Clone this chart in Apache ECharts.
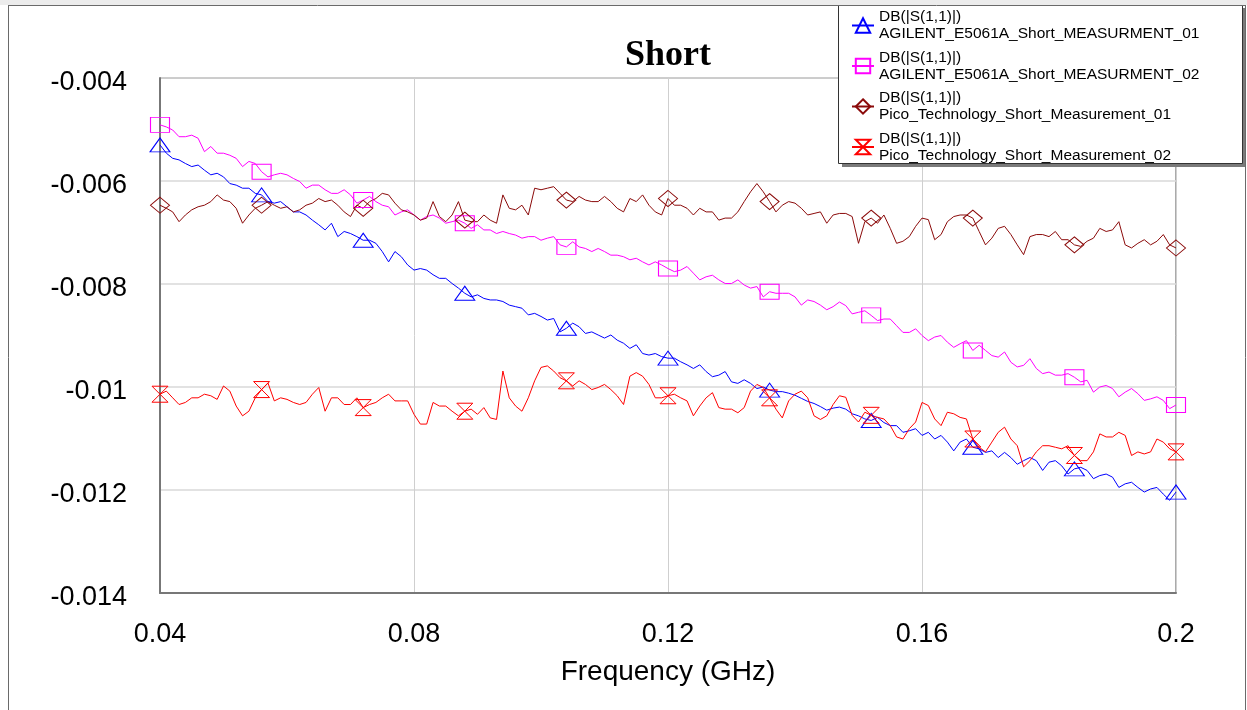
<!DOCTYPE html>
<html>
<head>
    <meta charset="utf-8">
    <script src="https://cdn.jsdelivr.net/npm/echarts@6/dist/echarts.min.js"></script>
    <style>
        html, body { margin: 0; padding: 0; background: #fff; }
        #container { width: 1247px; height: 710px; }
    </style>
</head>
<body>
<div id="container"></div>
<script>
    // frequency sweep, 0.04 .. 0.2 GHz in 0.001 GHz steps
    const freqGHz = Array.from({length: 161}, (_, i) => +(0.04 + i * 0.001).toFixed(3));

    // DB(|S(1,1)|)
    const agilent01 = [
        -0.00530, -0.00546, -0.00556, -0.00559, -0.00566, -0.00572, -0.00569, -0.00579, -0.00588, -0.00585,
        -0.00592, -0.00605, -0.00608, -0.00614, -0.00614, -0.00624, -0.00627, -0.00640, -0.00643, -0.00640,
        -0.00650, -0.00660, -0.00660, -0.00666, -0.00676, -0.00685, -0.00695, -0.00682, -0.00708, -0.00698,
        -0.00702, -0.00708, -0.00715, -0.00715, -0.00721, -0.00737, -0.00757, -0.00737, -0.00747, -0.00763,
        -0.00773, -0.00770, -0.00773, -0.00782, -0.00789, -0.00789, -0.00799, -0.00808, -0.00818, -0.00825,
        -0.00821, -0.00828, -0.00831, -0.00831, -0.00834, -0.00841, -0.00844, -0.00847, -0.00860, -0.00857,
        -0.00863, -0.00870, -0.00867, -0.00893, -0.00886, -0.00876, -0.00883, -0.00896, -0.00893, -0.00899,
        -0.00905, -0.00899, -0.00909, -0.00915, -0.00925, -0.00918, -0.00935, -0.00938, -0.00935, -0.00941,
        -0.00944, -0.00944, -0.00951, -0.00957, -0.00964, -0.00957, -0.00970, -0.00980, -0.00977, -0.00970,
        -0.00990, -0.00993, -0.00986, -0.00993, -0.01003, -0.01000, -0.01006, -0.01009, -0.01009, -0.01012,
        -0.01016, -0.01022, -0.01028, -0.01032, -0.01038, -0.01045, -0.01041, -0.01039, -0.01043, -0.01052,
        -0.01056, -0.01062, -0.01065, -0.01059, -0.01069, -0.01075, -0.01075, -0.01088, -0.01085, -0.01081,
        -0.01094, -0.01088, -0.01101, -0.01094, -0.01107, -0.01124, -0.01107, -0.01101, -0.01117, -0.01120,
        -0.01127, -0.01124, -0.01137, -0.01127, -0.01137, -0.01150, -0.01143, -0.01137, -0.01143, -0.01162,
        -0.01146, -0.01143, -0.01153, -0.01169, -0.01159, -0.01156, -0.01162, -0.01178, -0.01172, -0.01169,
        -0.01175, -0.01195, -0.01188, -0.01185, -0.01195, -0.01204, -0.01198, -0.01195, -0.01208, -0.01220,
        -0.01204
    ];
    const agilent02 = [
        -0.00491, -0.00495, -0.00501, -0.00514, -0.00514, -0.00511, -0.00517, -0.00543, -0.00533, -0.00546,
        -0.00546, -0.00550, -0.00556, -0.00572, -0.00562, -0.00566, -0.00582, -0.00592, -0.00588, -0.00585,
        -0.00588, -0.00595, -0.00601, -0.00614, -0.00608, -0.00608, -0.00617, -0.00624, -0.00624, -0.00617,
        -0.00627, -0.00643, -0.00637, -0.00630, -0.00640, -0.00647, -0.00650, -0.00666, -0.00660, -0.00656,
        -0.00666, -0.00676, -0.00669, -0.00666, -0.00672, -0.00682, -0.00679, -0.00676, -0.00682, -0.00692,
        -0.00685, -0.00695, -0.00695, -0.00702, -0.00698, -0.00702, -0.00705, -0.00711, -0.00708, -0.00708,
        -0.00715, -0.00711, -0.00708, -0.00724, -0.00728, -0.00718, -0.00728, -0.00731, -0.00737, -0.00731,
        -0.00737, -0.00744, -0.00744, -0.00747, -0.00753, -0.00750, -0.00757, -0.00763, -0.00757, -0.00763,
        -0.00770, -0.00776, -0.00773, -0.00766, -0.00779, -0.00792, -0.00786, -0.00783, -0.00792, -0.00799,
        -0.00799, -0.00792, -0.00802, -0.00808, -0.00805, -0.00825, -0.00815, -0.00818, -0.00818, -0.00818,
        -0.00825, -0.00841, -0.00831, -0.00834, -0.00841, -0.00850, -0.00844, -0.00835, -0.00842, -0.00858,
        -0.00855, -0.00852, -0.00861, -0.00871, -0.00868, -0.00868, -0.00881, -0.00894, -0.00894, -0.00887,
        -0.00900, -0.00910, -0.00903, -0.00900, -0.00913, -0.00923, -0.00916, -0.00910, -0.00929, -0.00919,
        -0.00929, -0.00939, -0.00942, -0.00932, -0.00952, -0.00961, -0.00958, -0.00945, -0.00964, -0.00974,
        -0.00971, -0.00977, -0.00977, -0.00974, -0.00981, -0.00990, -0.00987, -0.01010, -0.01000, -0.00997,
        -0.01003, -0.01019, -0.01010, -0.01003, -0.01013, -0.01026, -0.01023, -0.01019, -0.01026, -0.01042,
        -0.01035
    ];
    const pico01 = [
        -0.00647, -0.00653, -0.00660, -0.00679, -0.00666, -0.00656, -0.00650, -0.00647, -0.00640, -0.00627,
        -0.00637, -0.00640, -0.00653, -0.00682, -0.00666, -0.00653, -0.00647, -0.00640, -0.00647, -0.00653,
        -0.00650, -0.00660, -0.00656, -0.00647, -0.00643, -0.00634, -0.00640, -0.00637, -0.00647, -0.00660,
        -0.00669, -0.00647, -0.00653, -0.00640, -0.00634, -0.00624, -0.00627, -0.00643, -0.00656, -0.00660,
        -0.00666, -0.00676, -0.00672, -0.00640, -0.00669, -0.00679, -0.00666, -0.00640, -0.00676, -0.00679,
        -0.00679, -0.00666, -0.00676, -0.00682, -0.00627, -0.00653, -0.00656, -0.00647, -0.00666, -0.00614,
        -0.00617, -0.00614, -0.00611, -0.00624, -0.00637, -0.00640, -0.00630, -0.00637, -0.00640, -0.00640,
        -0.00630, -0.00640, -0.00653, -0.00660, -0.00634, -0.00640, -0.00627, -0.00647, -0.00660, -0.00666,
        -0.00634, -0.00647, -0.00647, -0.00653, -0.00666, -0.00653, -0.00660, -0.00660, -0.00676, -0.00672,
        -0.00672, -0.00660, -0.00640, -0.00621, -0.00605, -0.00621, -0.00640, -0.00660, -0.00647, -0.00640,
        -0.00643, -0.00653, -0.00666, -0.00663, -0.00660, -0.00682, -0.00666, -0.00663, -0.00663, -0.00669,
        -0.00721, -0.00679, -0.00672, -0.00682, -0.00666, -0.00692, -0.00721, -0.00717, -0.00708, -0.00688,
        -0.00672, -0.00675, -0.00714, -0.00704, -0.00679, -0.00669, -0.00666, -0.00666, -0.00672, -0.00698,
        -0.00724, -0.00711, -0.00692, -0.00688, -0.00704, -0.00724, -0.00743, -0.00708, -0.00704, -0.00704,
        -0.00708, -0.00698, -0.00714, -0.00714, -0.00724, -0.00727, -0.00717, -0.00711, -0.00692, -0.00698,
        -0.00695, -0.00679, -0.00724, -0.00730, -0.00721, -0.00714, -0.00724, -0.00717, -0.00704, -0.00724,
        -0.00730
    ];
    const pico02 = [
        -0.01014, -0.01008, -0.01021, -0.01034, -0.01030, -0.01021, -0.01021, -0.01014, -0.01017, -0.01024,
        -0.00998, -0.01008, -0.01037, -0.01056, -0.01047, -0.01021, -0.01005, -0.00992, -0.01027, -0.01021,
        -0.01024, -0.01030, -0.01034, -0.01030, -0.01014, -0.01001, -0.01047, -0.01021, -0.01021, -0.01034,
        -0.01034, -0.01021, -0.01040, -0.01034, -0.01030, -0.01021, -0.01014, -0.01027, -0.01027, -0.01027,
        -0.01053, -0.01072, -0.01072, -0.01030, -0.01037, -0.01037, -0.01047, -0.01056, -0.01047, -0.01043,
        -0.01053, -0.01040, -0.01060, -0.01063, -0.00969, -0.01021, -0.01037, -0.01047, -0.01021, -0.00988,
        -0.00962, -0.00959, -0.00969, -0.00982, -0.00988, -0.00998, -0.00988, -0.00995, -0.01005, -0.01001,
        -0.00995, -0.01005, -0.01017, -0.01034, -0.00979, -0.00972, -0.00979, -0.00995, -0.01021, -0.01021,
        -0.01017, -0.01014, -0.01021, -0.01027, -0.01056, -0.01037, -0.01021, -0.01011, -0.01040, -0.01043,
        -0.01043, -0.01050, -0.01040, -0.01008, -0.00995, -0.01001, -0.01021, -0.01043, -0.01060, -0.01027,
        -0.01014, -0.01008, -0.01021, -0.01056, -0.01063, -0.01056, -0.01034, -0.01017, -0.01020, -0.01055,
        -0.01068, -0.01049, -0.01055, -0.01059, -0.01062, -0.01075, -0.01097, -0.01101, -0.01081, -0.01068,
        -0.01030, -0.01036, -0.01062, -0.01075, -0.01049, -0.01052, -0.01059, -0.01062, -0.01101, -0.01117,
        -0.01126, -0.01107, -0.01088, -0.01078, -0.01101, -0.01114, -0.01155, -0.01143, -0.01126, -0.01114,
        -0.01114, -0.01117, -0.01120, -0.01114, -0.01133, -0.01143, -0.01143, -0.01126, -0.01091, -0.01097,
        -0.01097, -0.01088, -0.01094, -0.01133, -0.01126, -0.01130, -0.01126, -0.01101, -0.01107, -0.01120,
        -0.01126
    ];

    const seriesNames = [
        'AGILENT_E5061A_Short_MEASURMENT_01',
        'AGILENT_E5061A_Short_MEASURMENT_02',
        'Pico_Technology_Short_Measurement_01',
        'Pico_Technology_Short_Measurement_02'
    ];
    const yTicks = [-0.014, -0.012, -0.01, -0.008, -0.006, -0.004];
    const xTicks = [0.04, 0.08, 0.12, 0.16, 0.2];

    const FONT = '"Liberation Sans", Arial, sans-serif';
    const hourglass = 'path://M0,0L10,0L0,10L10,10Z';
    // a marker every 16th sample (0.016 GHz)
    const MARK_EVERY = 16;

    function makeSeries(name, values, color, symbol, size) {
        return {
            name: name,
            type: 'line',
            data: values.map((v, i) => [freqGHz[i], v]),
            symbol: symbol,
            showAllSymbol: true,
            symbolSize: function (val, params) {
                return params.dataIndex % MARK_EVERY === 0 ? size : 0;
            },
            lineStyle: {color: color, width: 1},
            itemStyle: {color: 'rgba(255,255,255,0)', borderColor: color, borderWidth: 1},
            emphasis: {disabled: true},
            z: 3
        };
    }

    let dom = document.getElementById('container');
    let myChart = echarts.init(dom, null, {renderer: 'canvas'});
    let option = {
        animation: false,
        backgroundColor: '#fff',
        title: {
            text: 'Short',
            left: 663,
            top: 33,
            textAlign: 'center',
            textStyle: {
                fontFamily: '"Liberation Serif", "Times New Roman", serif',
                fontWeight: 'bold',
                fontSize: 36,
                color: '#000'
            }
        },
        grid: {
            left: 160,
            right: 71,
            top: 78,
            bottom: 117,
            show: true,
            borderColor: '#555',
            borderWidth: 1,
            backgroundColor: '#fff'
        },
        xAxis: {
            type: 'value',
            min: xTicks[0],
            max: xTicks[xTicks.length - 1],
            interval: 0.04,
            name: 'Frequency (GHz)',
            nameLocation: 'middle',
            nameGap: 65,
            nameTextStyle: {fontFamily: FONT, fontSize: 28, color: '#000'},
            axisLine: {show: true, onZero: false, lineStyle: {color: '#777', width: 2}},
            axisTick: {show: false},
            splitLine: {show: true, lineStyle: {color: '#cfcfcf', width: 1}},
            axisLabel: {
                margin: 28,
                fontFamily: FONT,
                fontSize: 27,
                color: '#000',
                formatter: v => String(+v.toFixed(2))
            }
        },
        yAxis: {
            type: 'value',
            min: yTicks[0],
            max: yTicks[yTicks.length - 1],
            interval: 0.002,
            axisLine: {show: true, onZero: false, lineStyle: {color: '#777', width: 2}},
            axisTick: {show: false},
            splitLine: {show: true, lineStyle: {color: '#d9d9d9', width: 1.5}},
            axisLabel: {
                margin: 33,
                fontFamily: FONT,
                fontSize: 27,
                color: '#000',
                verticalAlign: 'top',
                lineHeight: 9,
                formatter: v => String(+v.toFixed(3))
            }
        },
        legend: {
            orient: 'vertical',
            left: 851,
            top: 0,
            padding: 0,
            itemWidth: 22,
            itemHeight: 18,
            itemGap: -10.5,
            z: 12,
            data: seriesNames,
            formatter: name => 'DB(|S(1,1)|)\n' + name,
            textStyle: {
                fontFamily: FONT,
                fontSize: 15.5,
                lineHeight: 17,
                color: '#000',
                padding: [17, 0, 0, 0]
            }
        },
        graphic: [
            {type: 'rect', z: 100, silent: true, shape: {x: 0, y: 0, width: 1247, height: 5}, style: {fill: '#ececec'}},
            {type: 'line', z: 100, silent: true, shape: {x1: 8.5, y1: 5, x2: 8.5, y2: 710}, style: {stroke: '#6a6a6a', lineWidth: 1}},
            {type: 'line', z: 100, silent: true, shape: {x1: 8, y1: 5.5, x2: 1246, y2: 5.5}, style: {stroke: '#6a6a6a', lineWidth: 1}},
            {type: 'line', z: 100, silent: true, shape: {x1: 1245.5, y1: 5, x2: 1245.5, y2: 710}, style: {stroke: '#6a6a6a', lineWidth: 1}},
            {type: 'rect', z: 10, silent: true, shape: {x: 842, y: 8, width: 404, height: 159}, style: {fill: '#7a7a7a'}},
            {type: 'rect', z: 11, silent: true, shape: {x: 838.5, y: 4.5, width: 404, height: 159}, style: {fill: '#fff', stroke: '#333', lineWidth: 1}}
        ],
        series: [
            makeSeries(seriesNames[0], agilent01, '#0000ff', 'triangle', [20, 14]),
            makeSeries(seriesNames[1], agilent02, '#ff00ff', 'rect', [19, 15]),
            makeSeries(seriesNames[2], pico01, '#8b0a0a', 'diamond', [19, 16]),
            makeSeries(seriesNames[3], pico02, '#ff0000', hourglass, [16, 16])
        ]
    };
    if (option && typeof option === 'object') {
        myChart.setOption(option);
    }
</script>
</body>
</html>
